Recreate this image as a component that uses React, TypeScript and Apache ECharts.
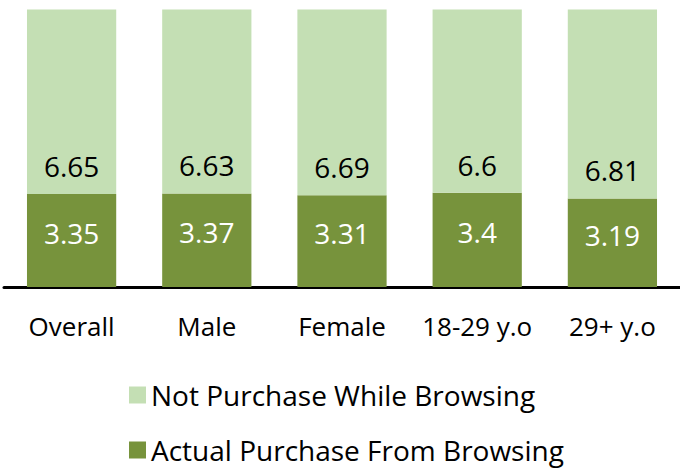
import React, { useEffect, useRef } from "react";
import * as echarts from "echarts";

const categories = ["Overall", "Male", "Female", "18-29 y.o", "29+ y.o"];
const actualPurchase = [3.35, 3.37, 3.31, 3.4, 3.19];
const notPurchase = [6.65, 6.63, 6.69, 6.6, 6.81];
const seriesNames = ["Actual Purchase From Browsing", "Not Purchase While Browsing"];

const FONT = "'Open Sans', 'Noto Sans', sans-serif";

const legendBase = {
  orient: "horizontal",
  left: 124,
  itemWidth: 17,
  itemHeight: 17,
  padding: 0,
  textStyle: { fontSize: 28, lineHeight: 30, color: "#000", fontFamily: FONT },
  icon: "rect",
};

export default function App() {
  const ref = useRef<HTMLDivElement>(null);
  useEffect(() => {
    const chart = echarts.init(ref.current!, undefined, { renderer: "svg" });
    chart.setOption({
      animation: false,
      textStyle: { fontFamily: FONT },
      grid: { left: 4, width: 680, top: 9.5, bottom: 181 },
      xAxis: {
        type: "category",
        data: categories,
        axisLine: { lineStyle: { color: "#000", width: 3 } },
        axisTick: { show: false },
        axisLabel: { color: "#000", fontSize: 26, fontFamily: FONT, margin: 26, interval: 0 },
      },
      yAxis: { type: "value", min: 0, max: 10, show: false, splitLine: { show: false } },
      legend: [
        { ...legendBase, left: 129, top: 380, data: [seriesNames[1]] },
        { ...legendBase, left: 129, top: 435, data: [seriesNames[0]] },
      ],
      series: [
        {
          name: seriesNames[0],
          type: "bar",
          stack: "a",
          data: actualPurchase,
          barCategoryGap: "34%",
          itemStyle: { color: "#77933C" },
          label: { show: true, position: "inside", offset: [0, -8], color: "#fff", fontSize: 28, fontFamily: FONT },
        },
        {
          name: seriesNames[1],
          type: "bar",
          stack: "a",
          data: notPurchase,
          itemStyle: { color: "#C4DFB4" },
          label: { show: true, position: "insideBottom", distance: 14, color: "#000", fontSize: 28, fontFamily: FONT },
        },
      ],
    });
    return () => chart.dispose();
  }, []);
  return <div ref={ref} style={{ width: 680, height: 468, position: "absolute", left: 0, top: 0 }} />;
}
